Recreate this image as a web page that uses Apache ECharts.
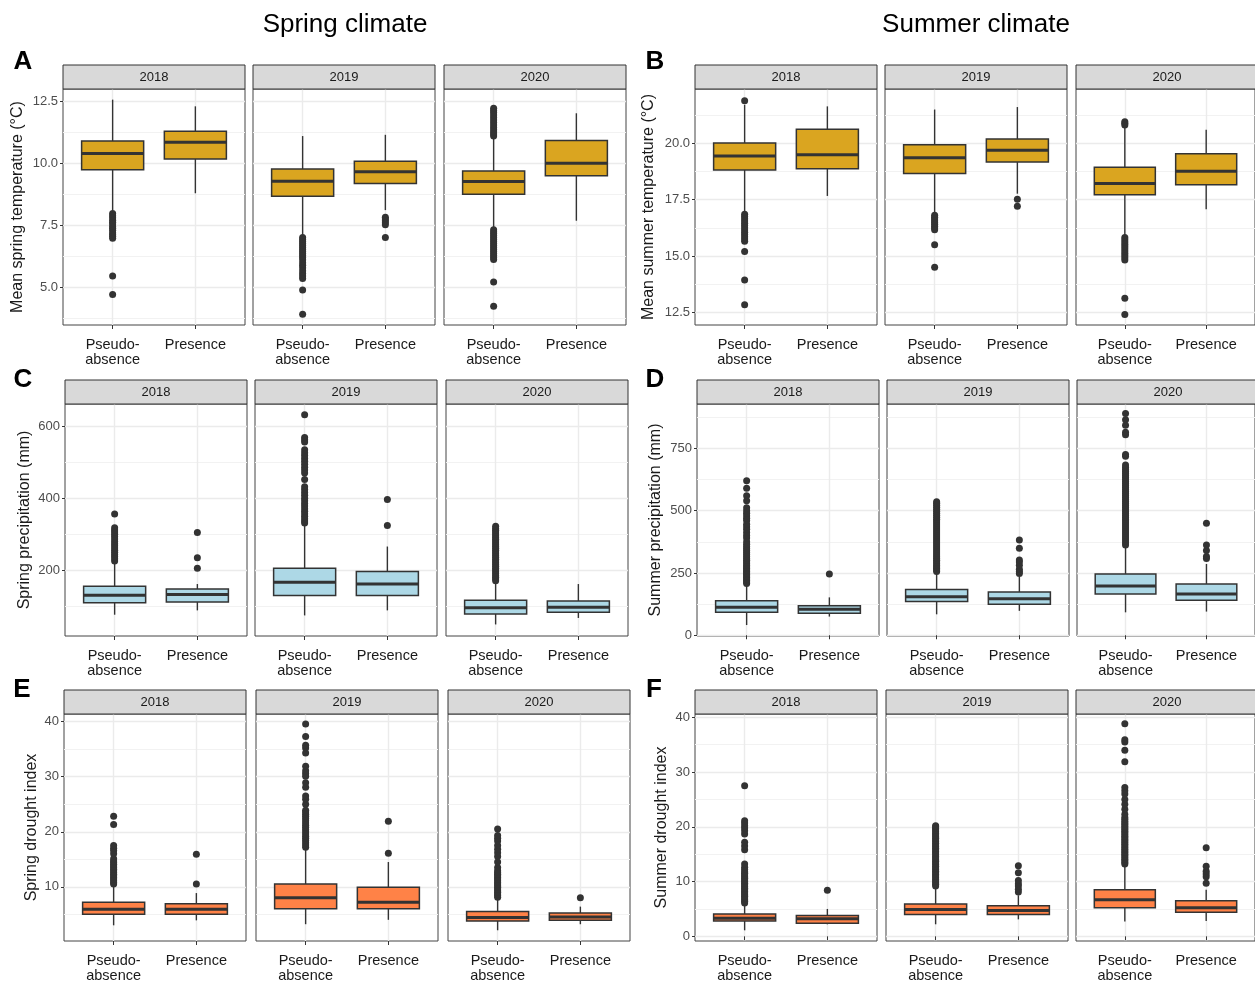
<!DOCTYPE html>
<html><head><meta charset="utf-8">
<script src="https://cdn.jsdelivr.net/npm/echarts@6/dist/echarts.min.js"></script>
<style>html,body{margin:0;padding:0;background:#fff}#chart{width:1255px;height:983px}</style>
</head><body><div id="chart"></div>
<script>
// ---------------- DATA ----------------
const years = ['2018', '2019', '2020'];
const groups = ['Pseudo-\nabsence', 'Presence'];
const sectionTitles = ['Spring climate', 'Summer climate'];
const panelLetters = ['A', 'B', 'C', 'D', 'E', 'F'];
const yNames = ['Mean spring temperature (°C)', 'Mean summer temperature (°C)',
  'Spring precipitation (mm)', 'Summer precipitation (mm)',
  'Spring drought index', 'Summer drought index'];

// tick labels per panel
const springTempTicks = [5.0, 7.5, 10.0, 12.5];
const summerTempTicks = [12.5, 15.0, 17.5, 20.0];
const springPrecTicks = [200, 400, 600];
const summerPrecTicks = [0, 250, 500, 750];
const springDroughtTicks = [10, 20, 30, 40];
const summerDroughtTicks = [0, 10, 20, 30, 40];

// box stats [min, q1, median, q3, max] per year: [Pseudo-absence, Presence]
const springTempStats = [
  [[8.1, 9.74, 10.4, 10.9, 12.57], [8.79, 10.17, 10.85, 11.29, 12.3]],
  [[7.1, 8.67, 9.27, 9.77, 11.1], [8.11, 9.18, 9.66, 10.08, 11.15]],
  [[7.4, 8.75, 9.26, 9.69, 11.0], [7.68, 9.5, 10.0, 10.92, 12.02]]
];
const springTempOutliers = [
  [[7.97, 7.88, 7.8, 7.7, 7.62, 7.55, 7.45, 7.38, 7.3, 7.2, 7.12, 7.05, 6.97, 5.45, 4.7], []],
  [[7.0, 6.92, 6.84, 6.76, 6.68, 6.6, 6.52, 6.44, 6.36, 6.28, 6.2, 6.1, 5.98, 5.88, 5.78, 5.66, 5.55, 5.45, 5.35, 4.88, 3.9], [7.82, 7.75, 7.68, 7.6, 7.52, 7.0]],
  [[11.1, 11.18, 11.26, 11.35, 11.45, 11.55, 11.65, 11.75, 11.85, 11.95, 12.05, 12.13, 12.22,
    7.32, 7.24, 7.16, 7.08, 7.0, 6.92, 6.84, 6.76, 6.68, 6.6, 6.52, 6.44, 6.36, 6.28, 6.2, 6.12, 5.21, 4.23], []]
];

const summerTempStats = [
  [[16.95, 18.81, 19.43, 20.01, 21.7], [17.66, 18.87, 19.49, 20.62, 21.63]],
  [[16.9, 18.66, 19.35, 19.93, 21.49], [17.76, 19.16, 19.68, 20.18, 21.6]],
  [[15.9, 17.71, 18.21, 18.93, 20.7], [17.07, 18.16, 18.75, 19.53, 20.59]]
];
const summerTempOutliers = [
  [[21.88, 16.85, 16.75, 16.65, 16.55, 16.45, 16.35, 16.25, 16.15, 16.05, 15.95, 15.85, 15.75, 15.65, 15.2, 13.94, 12.84], []],
  [[16.8, 16.72, 16.64, 16.56, 16.48, 16.4, 16.32, 16.24, 16.16, 15.5, 14.5], [17.51, 17.2]],
  [[20.95, 20.88, 20.8, 15.82, 15.72, 15.62, 15.52, 15.42, 15.32, 15.22, 15.12, 15.02, 14.92, 14.82, 13.13, 12.4], []]
];

const springPrecStats = [
  [[77, 110, 131, 156, 220], [89, 112, 133, 148, 162]],
  [[75, 130, 167, 206, 326], [89, 130, 162, 197, 266]],
  [[50, 79, 96, 117, 167], [68, 84, 98, 115, 162]]
];
const springPrecOutliers = [
  [[226, 232, 238, 244, 250, 256, 262, 268, 274, 280, 287, 294, 300, 306, 312, 318, 356], [206, 235, 305]],
  [[331, 337, 343, 350, 357, 364, 371, 378, 385, 393, 400, 408, 416, 424, 432, 452, 470, 478, 486, 494, 502, 510, 518, 526, 534, 556, 562, 568, 631], [324, 396]],
  [[171, 176, 181, 186, 191, 196, 201, 206, 211, 216, 221, 226, 231, 236, 241, 246, 251, 256, 261, 266, 271, 276, 281, 286, 291, 296, 301, 306, 311, 316, 322], []]
];

const summerPrecStats = [
  [[41, 92, 112, 138, 201], [75, 88, 104, 118, 152]],
  [[84, 135, 155, 184, 251], [98, 124, 146, 174, 235]],
  [[92, 166, 198, 246, 356], [95, 140, 166, 206, 286]]
];
const summerPrecOutliers = [
  [[208, 214, 220, 226, 232, 238, 244, 250, 256, 262, 268, 274, 280, 287, 294, 301, 308, 316, 324, 332, 340, 348, 356, 365, 375, 390, 400, 412, 425, 435, 445, 460, 470, 480, 490, 500, 512, 540, 560, 590, 620], [246]],
  [[256, 262, 268, 274, 280, 287, 294, 301, 308, 315, 322, 330, 338, 346, 354, 362, 370, 378, 386, 394, 402, 410, 418, 426, 434, 442, 450, 458, 466, 474, 482, 490, 498, 506, 514, 522, 530, 536], [248, 256, 265, 281, 294, 302, 349, 382]],
  [[362, 370, 378, 386, 394, 402, 410, 418, 426, 434, 442, 450, 458, 466, 474, 482, 490, 498, 506, 514, 522, 530, 538, 546, 554, 562, 570, 578, 586, 594, 602, 610, 618, 626, 634, 642, 650, 658, 666, 674, 683, 718, 725, 805, 815, 843, 865, 890], [308, 316, 340, 362, 449]]
];

const springDroughtStats = [
  [[3.0, 5.0, 5.9, 7.2, 10.4], [3.9, 5.0, 5.9, 6.9, 8.86]],
  [[3.2, 6.0, 8.0, 10.5, 17.0], [4.0, 6.0, 7.2, 9.9, 14.5]],
  [[2.1, 3.8, 4.4, 5.5, 8.0], [3.2, 3.9, 4.5, 5.24, 6.4]]
];
const springDroughtOutliers = [
  [[10.5, 10.8, 11.1, 11.4, 11.7, 12.0, 12.3, 12.6, 12.9, 13.2, 13.5, 13.8, 14.1, 14.4, 14.7, 15.1, 16.0, 16.6, 17.0, 17.5, 21.3, 22.8], [10.5, 15.9]],
  [[17.2, 17.6, 18.0, 18.4, 18.8, 19.2, 19.6, 20.0, 20.4, 20.8, 21.2, 21.6, 22.0, 22.4, 22.8, 23.2, 23.6, 23.9, 25.0, 25.9, 26.5, 28.1, 28.9, 30.1, 30.6, 31.1, 31.9, 34.3, 35.2, 35.7, 37.3, 39.6], [16.1, 21.9]],
  [[8.1, 8.4, 8.7, 9.0, 9.3, 9.6, 9.9, 10.2, 10.5, 10.8, 11.1, 11.4, 11.7, 12.0, 12.3, 12.6, 12.9, 13.5, 14.5, 15.5, 16.2, 16.8, 17.5, 18.3, 18.8, 19.3, 20.5], [8.0]]
];

const summerDroughtStats = [
  [[1.1, 2.8, 3.3, 4.1, 5.9], [2.2, 2.4, 3.2, 3.8, 5.0]],
  [[2.2, 4.0, 4.9, 5.9, 8.8], [3.1, 4.0, 4.7, 5.6, 7.5]],
  [[2.7, 5.2, 6.7, 8.5, 12.9], [2.8, 4.4, 5.2, 6.5, 8.5]]
];
const summerDroughtOutliers = [
  [[6.1, 6.4, 6.7, 7.0, 7.3, 7.6, 7.9, 8.2, 8.5, 8.8, 9.1, 9.4, 9.7, 10.0, 10.3, 10.6, 10.9, 11.2, 11.5, 11.8, 12.2, 12.6, 13.2, 15.8, 16.5, 17.2, 18.7, 19.3, 19.8, 20.2, 20.7, 21.1, 27.5], [8.4]],
  [[9.2, 9.5, 9.8, 10.1, 10.4, 10.7, 11.0, 11.3, 11.6, 11.9, 12.2, 12.5, 12.8, 13.1, 13.4, 13.7, 14.0, 14.3, 14.6, 14.9, 15.2, 15.5, 15.8, 16.1, 16.4, 16.7, 17.0, 17.3, 17.6, 17.9, 18.2, 18.5, 18.8, 19.1, 19.4, 19.7, 20.0, 20.2], [8.1, 8.6, 9.2, 9.6, 10.2, 11.6, 12.9]],
  [[13.2, 13.5, 13.8, 14.1, 14.4, 14.7, 15.0, 15.3, 15.6, 15.9, 16.2, 16.5, 16.8, 17.1, 17.4, 17.7, 18.0, 18.3, 18.6, 18.9, 19.2, 19.5, 19.8, 20.1, 20.4, 20.7, 21.0, 21.4, 21.7, 22.3, 23.2, 24.1, 25.0, 26.0, 26.6, 27.2, 31.9, 34.0, 35.5, 35.9, 38.8], [9.7, 10.9, 11.4, 11.9, 12.8, 16.2]]
];

// ---------------- LAYOUT / STYLE ----------------
const FONT = '"Liberation Sans", Arial, Helvetica, sans-serif';
const FACET_W = 182, STRIP_H = 24;
const panels = [
  {stats: springTempStats, out: springTempOutliers, ticks: springTempTicks, dec: 1, min: 3.47, max: 13.0, step: 2.5, fill: '#DAA520', lefts: [63, 253, 444], top: 89, height: 236, gap: 37, letter: [23, 62]},
  {stats: summerTempStats, out: summerTempOutliers, ticks: summerTempTicks, dec: 1, min: 11.94, max: 22.4, step: 2.5, fill: '#DAA520', lefts: [695, 885, 1076], top: 89, height: 236, gap: 38, letter: [655, 62]},
  {stats: springPrecStats, out: springPrecOutliers, ticks: springPrecTicks, dec: 0, min: 18, max: 661, step: 200, fill: '#ADD8E6', lefts: [65, 255, 446], top: 404, height: 232, gap: 32, letter: [23, 380]},
  {stats: summerPrecStats, out: summerPrecOutliers, ticks: summerPrecTicks, dec: 0, min: -3, max: 928, step: 250, fill: '#ADD8E6', lefts: [697, 887, 1077], top: 404, height: 232, gap: 33, letter: [655, 380]},
  {stats: springDroughtStats, out: springDroughtOutliers, ticks: springDroughtTicks, dec: 0, min: 0.15, max: 41.4, step: 10, fill: '#FF8247', lefts: [64, 256, 448], top: 714, height: 228, gap: 24, letter: [22, 690]},
  {stats: summerDroughtStats, out: summerDroughtOutliers, ticks: summerDroughtTicks, dec: 0, min: -0.85, max: 40.6, step: 10, fill: '#FF8247', lefts: [695, 886, 1076], top: 714, height: 228, gap: 25, letter: [654, 690]}
];

function makeBox(fill) {
  return function (params, api) {
    const x = api.value(0);
    const pMin = api.coord([x, api.value(1)]);
    const pQ1 = api.coord([x, api.value(2)]);
    const pMed = api.coord([x, api.value(3)]);
    const pQ3 = api.coord([x, api.value(4)]);
    const pMax = api.coord([x, api.value(5)]);
    const left = api.coord([x - 0.375, api.value(3)])[0];
    const right = api.coord([x + 0.375, api.value(3)])[0];
    const cx = pMed[0];
    const stroke = '#333333';
    return {type: 'group', children: [
      {type: 'line', shape: {x1: cx, y1: pMax[1], x2: cx, y2: pQ3[1]}, style: {stroke, lineWidth: 1.4}},
      {type: 'line', shape: {x1: cx, y1: pQ1[1], x2: cx, y2: pMin[1]}, style: {stroke, lineWidth: 1.4}},
      {type: 'rect', shape: {x: left, y: pQ3[1], width: right - left, height: pQ1[1] - pQ3[1]}, style: {fill, stroke, lineWidth: 1.5}},
      {type: 'line', shape: {x1: left, y1: pMed[1], x2: right, y2: pMed[1]}, style: {stroke, lineWidth: 3}}
    ]};
  };
}

const grids = [], xAxes = [], yAxes = [], series = [], graphics = [];
const majorLine = {show: true, lineStyle: {color: '#EBEBEB', width: 1.4}};

panels.forEach((p, pi) => {
  p.stats.forEach((yearStats, yi) => {
    const gi = grids.length;
    const left = p.lefts[yi];
    grids.push({left, top: p.top, width: FACET_W, height: p.height, show: true,
      borderColor: '#444', borderWidth: 1, backgroundColor: '#fff'});
    xAxes.push({type: 'value', gridIndex: gi, min: 0.4, max: 2.6, minInterval: 1, maxInterval: 1,
      axisLine: {show: false},
      axisTick: {show: true, length: 4, customValues: [1, 2], lineStyle: {color: '#333', width: 1}},
      axisLabel: {show: true, customValues: [1, 2], margin: 12, fontSize: 14.5, lineHeight: 15, color: '#1A1A1A', fontFamily: FONT,
        formatter: v => (Math.abs(v - 1) < 1e-9 ? groups[0] : Math.abs(v - 2) < 1e-9 ? groups[1] : '')},
      splitLine: majorLine});
    const first = yi === 0;
    const yAx = {type: 'value', gridIndex: gi, min: p.min, max: p.max, minInterval: p.step, maxInterval: p.step,
      axisLine: {show: false},
      axisTick: {show: first, length: 3, customValues: p.ticks, lineStyle: {color: '#333', width: 1}},
      axisLabel: {show: first, customValues: p.ticks, margin: 5, fontSize: 13, color: '#4D4D4D', fontFamily: FONT,
        formatter: v => {
          const r = v / p.step;
          return Math.abs(r - Math.round(r)) < 1e-6 ? v.toFixed(p.dec) : '';
        }},
      splitLine: majorLine,
      minorTick: {show: false, splitNumber: 2},
      minorSplitLine: {show: true, lineStyle: {color: '#F2F2F2', width: 1}}};
    if (first) {
      Object.assign(yAx, {name: yNames[pi], nameLocation: 'middle', nameRotate: 90, nameGap: p.gap,
        nameTextStyle: {fontSize: 16, color: '#1A1A1A', fontFamily: FONT}});
    }
    yAxes.push(yAx);
    series.push({type: 'custom', xAxisIndex: gi, yAxisIndex: gi, renderItem: makeBox(p.fill),
      data: yearStats.map((s, k) => [k + 1].concat(s)), encode: {x: 0, y: [1, 2, 3, 4, 5]}, z: 3, silent: true});
    const pts = [];
    p.out[yi].forEach((arr, k) => arr.forEach(v => pts.push([k + 1, v])));
    series.push({type: 'scatter', xAxisIndex: gi, yAxisIndex: gi, data: pts, symbol: 'circle', symbolSize: 7,
      itemStyle: {color: '#333333', opacity: 1}, z: 4, silent: true});
    graphics.push({type: 'rect', shape: {x: left, y: p.top - STRIP_H, width: FACET_W, height: STRIP_H},
      style: {fill: '#D9D9D9', stroke: '#333', lineWidth: 1}, z: 10});
    graphics.push({type: 'text', x: left + FACET_W / 2, y: p.top - STRIP_H / 2,
      style: {text: years[yi], font: '13px ' + FONT, fill: '#1A1A1A', align: 'center', verticalAlign: 'middle'}, z: 11});
  });
  graphics.push({type: 'text', x: p.letter[0], y: p.letter[1],
    style: {text: panelLetters[pi], font: 'bold 26px ' + FONT, fill: '#000', align: 'center', verticalAlign: 'middle'}, z: 11});
});
graphics.push({type: 'text', x: 345, y: 25, style: {text: sectionTitles[0], font: '26px ' + FONT, fill: '#000', align: 'center', verticalAlign: 'middle'}, z: 11});
graphics.push({type: 'text', x: 976, y: 25, style: {text: sectionTitles[1], font: '26px ' + FONT, fill: '#000', align: 'center', verticalAlign: 'middle'}, z: 11});

const chart = echarts.init(document.getElementById('chart'), null, {renderer: 'canvas'});
chart.setOption({
  animation: false,
  backgroundColor: '#fff',
  textStyle: {fontFamily: FONT},
  grid: grids, xAxis: xAxes, yAxis: yAxes, series, graphic: graphics
});
</script></body></html>
